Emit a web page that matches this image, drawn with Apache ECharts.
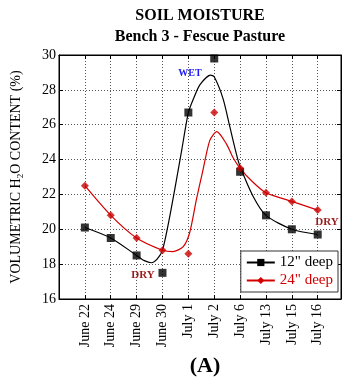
<!DOCTYPE html>
<html><head><meta charset="utf-8">
<script src="https://cdn.jsdelivr.net/npm/echarts@6/dist/echarts.min.js"></script>
<style>html,body{margin:0;padding:0;background:#fff}#c{width:342px;height:379px}</style>
</head><body><div id="c"></div>
<script>
var categories = ['June 22','June 24','June 29','June 30','July 1','July 2','July 6','July 13','July 15','July 16'];
var deep12 = [20.1,19.5,18.5,17.5,26.7,29.8,23.3,20.8,20.0,19.7];
var deep24 = [22.5,20.8,19.5,18.8,18.6,26.7,23.5,22.1,21.6,21.1];
// fitted curves: [category position, value]
var fit12 = [[0,20.1],[1,19.5],[2,18.5],[2.3,18.2],[2.57,18.08],[2.8,18.3],[3,18.8],[3.25,20.5],[3.5,22.5],[3.75,24.6],[4,26.7],[4.2,27.5],[4.45,28.3],[4.86,28.85],[5,28.75],[5.34,27.5],[5.6,25.9],[5.86,24.3],[6,23.6],[6.5,21.9],[7,20.8],[8,20.0],[9,19.7]];
var fit24 = [[0,22.5],[1,20.8],[2,19.5],[3,18.8],[3.4,18.72],[3.8,19.0],[4.05,19.8],[4.31,21.7],[4.55,23.3],[4.83,25.1],[5.1,25.6],[5.47,24.9],[5.73,24.1],[6,23.5],[6.5,22.7],[7,22.1],[8,21.6],[9,21.1]];
var yTicks = [16,18,20,22,24,26,28,30];

var SERIF = '"Liberation Serif", "DejaVu Serif", serif';
var chart = echarts.init(document.getElementById('c'), null, {renderer:'canvas'});
var grid = {left:59, top:55, right:1, height:244, show:true, borderColor:'#000', borderWidth:1, backgroundColor:'transparent'};
var dotted = {show:true, lineStyle:{color:'#555', type:[1,2], width:1}};
chart.setOption({
  animation:false,
  backgroundColor:'#fff',
  grid: grid,
  xAxis:[{
    type:'value', min:-1, max:9.9, interval:1,
    axisLine:{show:true, onZero:false, lineStyle:{color:'#000'}},
    axisTick:{show:true, inside:true, length:4, lineStyle:{color:'#000'}},
    splitLine:dotted,
    axisLabel:{rotate:90, margin:5, color:'#000', fontFamily:SERIF, fontSize:14,
      formatter:function(v){ return (Math.abs(v-Math.round(v))<1e-6 && categories[Math.round(v)]) ? categories[Math.round(v)] : ''; }}
  },{
    type:'value', position:'top', min:-1, max:9.9, interval:1,
    axisLine:{show:true, onZero:false, lineStyle:{color:'#000'}},
    axisTick:{show:true, inside:true, length:4, lineStyle:{color:'#000'}},
    axisLabel:{show:false}, splitLine:{show:false}
  }],
  yAxis:[{
    type:'value', min:yTicks[0], max:yTicks[yTicks.length-1], interval:2,
    axisLine:{show:true, onZero:false, lineStyle:{color:'#000'}},
    axisTick:{show:true, inside:true, length:4, lineStyle:{color:'#000'}},
    splitLine:dotted,
    axisLabel:{margin:3, color:'#000', fontFamily:SERIF, fontSize:14},
    name:'VOLUMETRIC H{s|2}O CONTENT (%)', nameLocation:'middle', nameGap:34,
    nameTextStyle:{color:'#000', fontFamily:SERIF, fontSize:14,
      rich:{s:{fontSize:9, fontFamily:SERIF, color:'#000', padding:[9,0,0,0]}}}
  },{
    type:'value', position:'right', min:yTicks[0], max:yTicks[yTicks.length-1], interval:2,
    axisLine:{show:true, onZero:false, lineStyle:{color:'#000'}},
    axisTick:{show:true, inside:true, length:4, lineStyle:{color:'#000'}},
    axisLabel:{show:false}, splitLine:{show:false}
  }],
  legend:{
    right:4, top:251, orient:'vertical', itemGap:3, itemWidth:28, itemHeight:9,
    padding:[4,5,4,5], borderColor:'#333', borderWidth:1, backgroundColor:'#fff',
    textStyle:{fontFamily:SERIF, fontSize:15, color:'#000'},
    data:[{name:'12" deep'},{name:'24" deep', textStyle:{color:'#d40000'}}]
  },
  series:[
    {name:'12" deep', type:'line', data:fit12, smooth:0.25, symbol:'rect', symbolSize:8, showSymbol:false,
      lineStyle:{color:'#000', width:1.2}, itemStyle:{color:'#000'}, z:3},
    {name:'24" deep', type:'line', data:fit24, smooth:0.25, symbol:'diamond', symbolSize:8, showSymbol:false,
      lineStyle:{color:'#d40000', width:1.2}, itemStyle:{color:'#d40000'}, z:3},
    {name:'m12', type:'scatter', symbol:'rect', symbolSize:8, itemStyle:{color:'#000'},
      data:categories.map(function(c,i){return [i, deep12[i]];}), z:4},
    {name:'m24', type:'scatter', symbol:'diamond', symbolSize:8, itemStyle:{color:'#cc0000'},
      data:categories.map(function(c,i){return [i, deep24[i]];}), z:4}
  ],
  graphic:[
    {type:'text', x:200, y:16, style:{text:'SOIL MOISTURE', textAlign:'center', textVerticalAlign:'middle', font:'bold 16px '+SERIF, fill:'#000'}},
    {type:'text', x:200, y:37, style:{text:'Bench 3 - Fescue Pasture', textAlign:'center', textVerticalAlign:'middle', font:'bold 16px '+SERIF, fill:'#000'}},
    {type:'text', x:190, y:73, style:{text:'WET', textAlign:'center', textVerticalAlign:'middle', font:'bold 10px '+SERIF, fill:'#1a1aff'}, z:10},
    {type:'text', x:143, y:275, style:{text:'DRY', textAlign:'center', textVerticalAlign:'middle', font:'bold 11px '+SERIF, fill:'#9b1c1c'}, z:10},
    {type:'text', x:327, y:222, style:{text:'DRY', textAlign:'center', textVerticalAlign:'middle', font:'bold 11px '+SERIF, fill:'#9b1c1c'}, z:10},
    {type:'text', x:205, y:366, style:{text:'(A)', textAlign:'center', textVerticalAlign:'middle', font:'bold 22px '+SERIF, fill:'#000'}}
  ]
});
</script></body></html>
